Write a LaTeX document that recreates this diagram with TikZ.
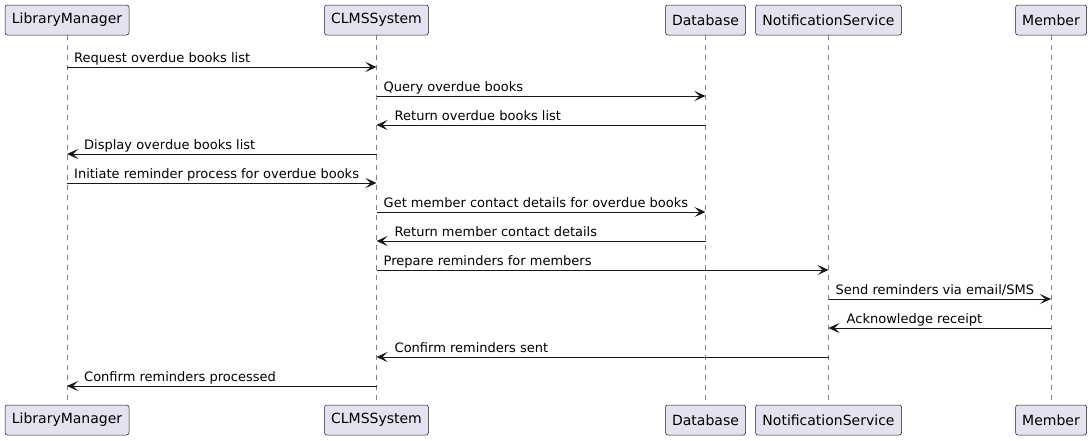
\documentclass[tikz,border=0pt]{standalone}
\usepackage{fontspec}
\setmainfont{DejaVu Sans}
\usetikzlibrary{arrows.meta}
\definecolor{partfill}{HTML}{E2E2F0}
\definecolor{partline}{HTML}{181818}
\definecolor{lifeline}{HTML}{808080}
\tikzset{
  part/.style={draw=partline, fill=partfill, line width=0.5pt, rounded corners=2.5pt,
    minimum height=30pt, inner sep=0pt, font=\fontsize{14}{16}\selectfont, text=black},
  life/.style={draw=lifeline, line width=0.6pt, dash pattern=on 5pt off 5pt},
  msg/.style={draw=partline, line width=1pt, -{Stealth[length=11pt,width=10pt,inset=5pt]}},
  lbl/.style={anchor=base west, inner sep=0pt, font=\fontsize{13}{15}\selectfont}
}
\begin{document}
\begin{tikzpicture}[x=1pt,y=-1pt]
\useasboundingbox (0,0) rectangle (1092,440);
% participants
\foreach \n/\t/\x/\w in {LM/LibraryManager/67/124, CS/CLMSSystem/376.5/104, DB/Database/705.5/80, NS/NotificationService/828.5/146, MB/Member/1051/71}{
  \node[part, minimum width=\w pt] (\n top) at (\x,20) {\t};
  \node[part, minimum width=\w pt] (\n bot) at (\x,420) {\t};
  \draw[life] (\n top.south) -- (\n bot.north);
}
% messages
\newcommand{\rmsg}[4]{%
  \coordinate (#1s#4) at (#1top |- 0,#3);
  \coordinate (#2e#4) at (#2top |- 0,#3);
  \draw[msg] (#1s#4) -- (#2e#4);
}
\rmsg{LM}{CS}{67}{1}
\node[lbl] (t1) at ([xshift=7pt,yshift=5pt]LMs1) {Request overdue books list};
\rmsg{CS}{DB}{96}{2}
\node[lbl] (t2) at ([xshift=7pt,yshift=5pt]CSs2) {Query overdue books};
\rmsg{DB}{CS}{125}{3}
\node[lbl] (t3) at ([xshift=18pt,yshift=5pt]CSe3) {Return overdue books list};
\rmsg{CS}{LM}{154}{4}
\node[lbl] (t4) at ([xshift=17pt,yshift=5pt]LMe4) {Display overdue books list};
\rmsg{LM}{CS}{183}{5}
\node[lbl] (t5) at ([xshift=7pt,yshift=5pt]LMs5) {Initiate reminder process for overdue books};
\rmsg{CS}{DB}{212}{6}
\node[lbl] (t6) at ([xshift=7pt,yshift=5pt]CSs6) {Get member contact details for overdue books};
\rmsg{DB}{CS}{241}{7}
\node[lbl] (t7) at ([xshift=18pt,yshift=5pt]CSe7) {Return member contact details};
\rmsg{CS}{NS}{270}{8}
\node[lbl] (t8) at ([xshift=7pt,yshift=5pt]CSs8) {Prepare reminders for members};
\rmsg{NS}{MB}{299}{9}
\node[lbl] (t9) at ([xshift=7pt,yshift=5pt]NSs9) {Send reminders via email/SMS};
\rmsg{MB}{NS}{328}{10}
\node[lbl] (t10) at ([xshift=18pt,yshift=5pt]NSe10) {Acknowledge receipt};
\rmsg{NS}{CS}{357}{11}
\node[lbl] (t11) at ([xshift=18pt,yshift=5pt]CSe11) {Confirm reminders sent};
\rmsg{CS}{LM}{386}{12}
\node[lbl] (t12) at ([xshift=17pt,yshift=5pt]LMe12) {Confirm reminders processed};
\end{tikzpicture}
\end{document}
